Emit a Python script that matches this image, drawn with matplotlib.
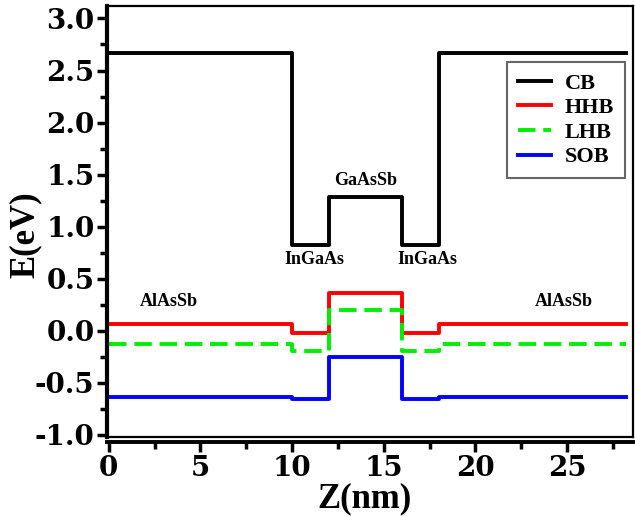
import numpy as np
import matplotlib.pyplot as plt
from matplotlib.ticker import MultipleLocator

plt.rcParams['font.family'] = 'Liberation Serif'
plt.rcParams['font.weight'] = 'bold'
plt.rcParams['axes.unicode_minus'] = False

# layer boundaries (nm): AlAsSb | InGaAs | GaAsSb | InGaAs | AlAsSb
z_edges = [0, 10, 12, 16, 18, 28.2]
cb  = [2.67, 0.82, 1.28, 0.82, 2.67]
hhb = [0.06, -0.02, 0.365, -0.02, 0.06]
lhb = [-0.126, -0.195, 0.20, -0.195, -0.126]
sob = [-0.635, -0.655, -0.255, -0.655, -0.635]

fig = plt.figure(figsize=(6.35, 5.17), dpi=100)
ax = fig.add_axes([107/635, 1 - 436.7/517, (633 - 107)/635, (436.7 - 6)/517])

def band(vals, **kw):
    ax.plot(z_edges, vals + [vals[-1]], drawstyle='steps-post', lw=2.8, **kw)

band(cb, color='black', label='CB')
band(hhb, color='#ff0000', label='HHB')
band(lhb, color='#00ee00', dashes=(4.5, 2), label='LHB')
band(sob, color='#0000ff', label='SOB')

tkw = dict(fontsize=13, fontweight='bold', ha='center', va='center')
ax.text(14.0, 1.44, 'GaAsSb', **tkw)
ax.text(11.2, 0.68, 'InGaAs', **tkw)
ax.text(17.4, 0.68, 'InGaAs', **tkw)
ax.text(3.25, 0.28, 'AlAsSb', **tkw)
ax.text(24.8, 0.28, 'AlAsSb', **tkw)

ax.set_xlim(-0.1, 28.6)
ax.set_ylim(-1.02, 3.12)
yt = np.arange(-1.0, 3.01, 0.5)
ax.set_yticks(yt)
ax.set_yticklabels(['%.1f' % v for v in yt])
ax.set_xticks([0, 5, 10, 15, 20, 25])
ax.xaxis.set_minor_locator(MultipleLocator(2.5))
ax.yaxis.set_minor_locator(MultipleLocator(0.25))

ax.tick_params(which='major', length=7, width=2.5, pad=2,
               labelsize=20, labelfontfamily='DejaVu Serif')
ax.tick_params(which='minor', length=5, width=2.5)
ax.tick_params(top=False, right=False)

ax.spines['left'].set_linewidth(3)
ax.spines['bottom'].set_linewidth(2.8)
ax.spines['bottom'].set_position(('outward', 4))
ax.spines['top'].set_linewidth(1.6)
ax.spines['right'].set_linewidth(1.6)
# frame line at the bottom of the plotting area
ax.plot([0, 1], [0, 0], transform=ax.transAxes, color='black', lw=1.6, clip_on=False)

ax.set_xlabel('Z(nm)', fontsize=25, fontweight='bold')
ax.set_ylabel('E(eV)', fontsize=25, fontweight='bold')
ax.xaxis.set_label_coords(0.49, -0.105)
ax.yaxis.set_label_coords(-0.125, 0.47)

leg = ax.legend(loc='upper right', bbox_to_anchor=(0.985, 0.87), borderaxespad=0,
                fontsize=16, handlelength=1.5, labelspacing=0.18, fancybox=False,
                edgecolor='#666666', framealpha=1, borderpad=0.5, handletextpad=0.6)
leg.get_frame().set_linewidth(1.5)

fig.savefig('out.png', dpi=100)
